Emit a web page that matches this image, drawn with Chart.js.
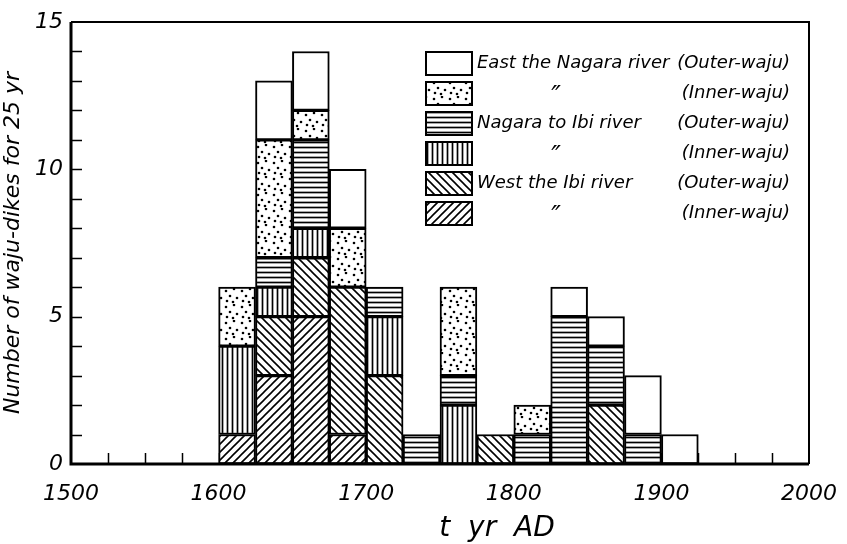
<!DOCTYPE html>
<html>
<head>
<meta charset="utf-8">
<script src="https://cdn.jsdelivr.net/npm/chart.js@4.4.1/dist/chart.umd.min.js"></script>
<style>
  body { margin: 0; background: #fff; }
  #wrap { width: 847px; height: 544px; }
</style>
</head>
<body>
<div id="wrap"><canvas id="chart" width="847" height="544"></canvas></div>
<script>
// 25-yr bins (start year)
const binStarts = [1600, 1625, 1650, 1675, 1700, 1725, 1750, 1775, 1800, 1825, 1850, 1875, 1900];

// counts per bin
const eastOuter   = [0, 2, 2, 2, 0, 0, 0, 0, 0, 1, 1, 2, 1];
const eastInner   = [2, 4, 1, 2, 0, 0, 3, 0, 1, 0, 0, 0, 0];
const nagaraOuter = [0, 1, 3, 0, 1, 1, 1, 0, 1, 5, 2, 1, 0];
const nagaraInner = [3, 1, 1, 0, 2, 0, 2, 0, 0, 0, 0, 0, 0];
const westOuter   = [0, 2, 2, 5, 3, 0, 0, 1, 0, 0, 2, 0, 0];
const westInner   = [1, 3, 5, 1, 0, 0, 0, 0, 0, 0, 0, 0, 0];

const xTickValues = [1500, 1600, 1700, 1800, 1900, 2000];
const yTickValues = [0, 5, 10, 15];

// legend text: [left part, right part]
const DITTO = '\u2033';
const legendRows = [
    ['East the Nagara river', '(Outer-waju)'],
    [DITTO, '(Inner-waju)'],
    ['Nagara to Ibi river', '(Outer-waju)'],
    [DITTO, '(Inner-waju)'],
    ['West the Ibi river', '(Outer-waju)'],
    [DITTO, '(Inner-waju)']
];

const FONT = '"DejaVu Sans", sans-serif';

// hatch patterns
function makeTile(size, draw) {
    const c = document.createElement('canvas');
    c.width = size; c.height = size;
    const g = c.getContext('2d');
    g.fillStyle = '#fff';
    g.fillRect(0, 0, size, size);
    g.strokeStyle = '#000';
    g.fillStyle = '#000';
    draw(g, size);
    return g.createPattern(c, 'repeat');
}

const patWhite = '#ffffff';
const patDots = makeTile(16, (g) => {
    [[2, 3], [10, 1], [6, 8], [13, 10], [3, 13], [9, 14]].forEach(p => {
        g.beginPath(); g.arc(p[0], p[1], 1.3, 0, Math.PI * 2); g.fill();
    });
});
const patHoriz = makeTile(5, (g, s) => {
    g.lineWidth = 1.7;
    g.beginPath(); g.moveTo(0, 2.5); g.lineTo(s, 2.5); g.stroke();
});
const patVert = makeTile(5, (g, s) => {
    g.lineWidth = 1.7;
    g.beginPath(); g.moveTo(2.5, 0); g.lineTo(2.5, s); g.stroke();
});
const patBack = makeTile(8, (g, s) => {   // "\"
    g.lineWidth = 1.6;
    g.beginPath();
    g.moveTo(0, 0); g.lineTo(s, s);
    g.moveTo(-s / 2, s / 2); g.lineTo(s / 2, s * 1.5);
    g.moveTo(s / 2, -s / 2); g.lineTo(s * 1.5, s / 2);
    g.stroke();
});
const patFwd = makeTile(8, (g, s) => {    // "/"
    g.lineWidth = 1.6;
    g.beginPath();
    g.moveTo(0, s); g.lineTo(s, 0);
    g.moveTo(-s / 2, s / 2); g.lineTo(s / 2, -s / 2);
    g.moveTo(s / 2, s * 1.5); g.lineTo(s * 1.5, s / 2);
    g.stroke();
});

function toPoints(arr) {
    return binStarts.map((b, i) => ({ x: b + 12.5, y: arr[i] === 0 ? null : arr[i] }));
}

// bottom of stack first
const series = [
    { label: 'West the Ibi river (Inner-waju)', data: westInner, fill: patFwd },
    { label: 'West the Ibi river (Outer-waju)', data: westOuter, fill: patBack },
    { label: 'Nagara to Ibi river (Inner-waju)', data: nagaraInner, fill: patVert },
    { label: 'Nagara to Ibi river (Outer-waju)', data: nagaraOuter, fill: patHoriz },
    { label: 'East the Nagara river (Inner-waju)', data: eastInner, fill: patDots },
    { label: 'East the Nagara river (Outer-waju)', data: eastOuter, fill: patWhite }
];

const frame = {
    id: 'frame',
    beforeDatasetsDraw(chart) {
        const { ctx, chartArea: a, scales: { x, y } } = chart;
        ctx.save();
        ctx.strokeStyle = '#000';
        ctx.lineWidth = 1.5;
        ctx.beginPath();
        x.ticks.forEach(t => {
            if (t.value <= 1500 || t.value >= 2000) return;
            const px = Math.round(x.getPixelForValue(t.value)) + 0.5;
            ctx.moveTo(px, a.bottom); ctx.lineTo(px, a.bottom - 11);
        });
        y.ticks.forEach(t => {
            if (t.value <= 0 || t.value >= 15) return;
            const py = Math.round(y.getPixelForValue(t.value)) + 0.5;
            ctx.moveTo(a.left, py); ctx.lineTo(a.left + 11, py);
        });
        ctx.stroke();
        ctx.restore();
    },
    afterDraw(chart) {
        const { ctx, chartArea: a } = chart;
        ctx.save();
        ctx.strokeStyle = '#000';
        ctx.lineWidth = 2;
        ctx.beginPath();
        ctx.moveTo(a.left, a.top); ctx.lineTo(a.right, a.top); ctx.lineTo(a.right, a.bottom);
        ctx.stroke();
        ctx.lineWidth = 3;
        ctx.beginPath();
        ctx.moveTo(a.left, a.top); ctx.lineTo(a.left, a.bottom); ctx.lineTo(a.right, a.bottom);
        ctx.stroke();

        // x title, sits right of centre in the original
        ctx.fillStyle = '#000';
        ctx.font = 'italic 28px ' + FONT;
        ctx.textAlign = 'center';
        ctx.textBaseline = 'middle';
        ctx.fillText('t  yr  AD', 497, 529);

        // legend
        const boxL = 426, boxW = 46, boxH = 23, rowTop = 52, rowGap = 30;
        legendRows.forEach((row, i) => {
            const ds = chart.data.datasets[series.length - 1 - i];
            const top = rowTop + i * rowGap;
            ctx.fillStyle = ds.backgroundColor;
            ctx.fillRect(boxL, top, boxW, boxH);
            ctx.lineWidth = 2;
            ctx.strokeRect(boxL, top, boxW, boxH);
            ctx.fillStyle = '#000';
            const cy = top + boxH / 2;
            if (row[0] === DITTO) {
                ctx.font = 'italic 26px ' + FONT;
                ctx.textAlign = 'center';
                ctx.fillText(row[0], 556, cy + 5);
            } else {
                ctx.font = 'italic 18px ' + FONT;
                ctx.textAlign = 'left';
                ctx.fillText(row[0], 477, cy);
            }
            ctx.font = 'italic 18px ' + FONT;
            ctx.textAlign = 'right';
            ctx.fillText(row[1], 790, cy);
        });
        ctx.restore();
    }
};

new Chart(document.getElementById('chart'), {
    type: 'bar',
    data: {
        datasets: series.map(s => ({
            label: s.label,
            data: toPoints(s.data),
            backgroundColor: s.fill,
            borderColor: '#000',
            borderWidth: 2,
            borderSkipped: false,
            barPercentage: 1,
            categoryPercentage: 1
        }))
    },
    options: {
        responsive: false,
        animation: false,
        layout: { padding: { left: 0, right: 0, top: 22, bottom: 0 } },
        plugins: { legend: { display: false }, tooltip: { enabled: false } },
        scales: {
            x: {
                type: 'linear',
                stacked: true,
                offset: false,
                min: 1500,
                max: 2000,
                grid: { display: false, drawTicks: false },
                border: { display: false },
                afterBuildTicks(scale) {
                    const t = [];
                    for (let v = 1500; v <= 2000; v += 25) t.push({ value: v });
                    scale.ticks = t;
                },
                ticks: {
                    autoSkip: false,
                    maxRotation: 0,
                    padding: 17,
                    color: '#000',
                    font: { family: FONT, size: 22, style: 'italic' },
                    callback: v => xTickValues.includes(v) ? String(v) : ''
                },
                afterFit(scale) {
                    scale.height = 80;
                    scale.paddingLeft = 0;
                    scale.paddingRight = 38;
                }
            },
            y: {
                stacked: true,
                min: 0,
                max: 15,
                grid: { display: false, drawTicks: false },
                border: { display: false },
                ticks: {
                    stepSize: 1,
                    autoSkip: false,
                    padding: 8,
                    color: '#000',
                    font: { family: FONT, size: 22, style: 'italic' },
                    callback: v => yTickValues.includes(v) ? String(v) : ''
                },
                title: {
                    display: true,
                    text: 'Number of waju-dikes for 25 yr',
                    color: '#000',
                    font: { family: FONT, size: 22, style: 'italic' },
                    padding: { top: 0, bottom: 4 }
                },
                afterFit(scale) { scale.width = 71; }
            }
        }
    },
    plugins: [frame]
});
</script>
</body>
</html>
